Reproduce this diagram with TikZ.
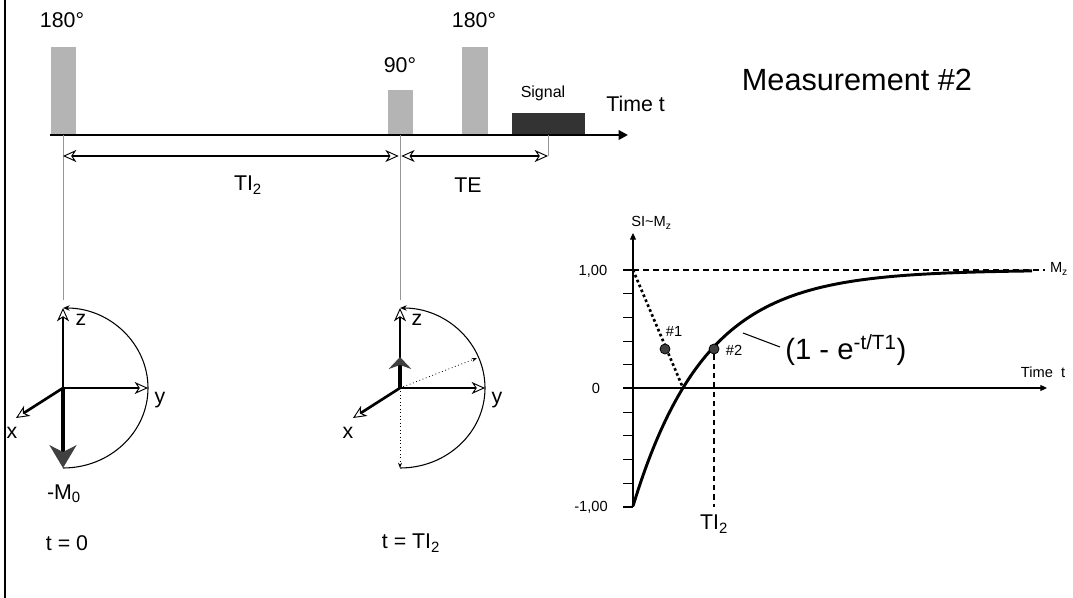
\documentclass[tikz,border=0pt]{standalone}
\usepackage{fontspec}
\setmainfont{Liberation Sans}
\usetikzlibrary{positioning,calc}
\usetikzlibrary{arrows.meta}
\definecolor{PulseGray}{RGB}{180,180,180}
\definecolor{SigDark}{RGB}{51,51,51}
\definecolor{VecGray}{RGB}{64,64,64}
\definecolor{GuideGray}{RGB}{150,150,150}
\tikzset{
	pulse/.style={fill=PulseGray},
	sigbox/.style={fill=SigDark},
	lbl/.style={font=\fontsize{16}{18}\selectfont,inner sep=0pt},
	smalllbl/.style={font=\fontsize{11}{13}\selectfont,inner sep=0pt},
	tline/.style={draw=black,line width=2.2pt,-{Triangle[length=7pt,width=7pt]}},
	dim/.style={draw=black,line width=2.2pt,
		{Stealth[open,fill=white,length=10pt,width=9pt,inset=3pt,line width=0.7pt]}-{Stealth[open,fill=white,length=10pt,width=9pt,inset=3pt,line width=0.7pt]}},
	guide/.style={draw=GuideGray,line width=0.5pt},
	ax/.style={draw=black,line width=2pt,-{Stealth[open,fill=white,length=10pt,width=9pt,inset=3pt,line width=0.7pt]}},
	orbit/.style={draw=black,line width=0.8pt,-{Stealth[length=5pt,width=4pt]}},
	mvec/.style={draw=black,line width=3.6pt,-{Stealth[color=VecGray,length=17pt,width=20pt,inset=5pt]}},
	mvecs/.style={draw=black,line width=3.6pt,-{Stealth[color=VecGray,length=9pt,width=17pt,inset=3pt]}},
	dotvec/.style={draw=black,line width=0.6pt,dotted,-{Stealth[length=4pt,width=3pt]}},
	gax/.style={draw=black,line width=0.8pt},
	recov/.style={draw=black,line width=2.2pt},
	gdot/.style={circle,draw=black,fill=VecGray,line width=0.6pt,inner sep=0pt,minimum size=7.5pt},
}
\begin{document}
\begin{tikzpicture}[x=0.75pt,y=0.75pt]
	\useasboundingbox (0,0) rectangle (1073,-598);
	% frame line at the left
	\coordinate (bd0) at (5,0);
	\coordinate (bd1) at (5,-598);
	\draw[line width=2.2pt] (bd0) -- (bd1);
	% pulse sequence
	\foreach \xa/\xb/\yt in {51/76/47,388/413/90,462/488/47}
	\fill[pulse] (\xa,-135) rectangle (\xb,-\yt);
	\fill[sigbox] (512,-135) rectangle (585,-113);
	\coordinate (ta) at (50,-135);
	\coordinate (tb) at (628,-135);
	\draw[tline] (ta) -- (tb);
	\node[lbl] (degA) at (62,-20) {180°};
	\node[lbl] (degB) at (474,-20) {180°};
	\node[lbl] (degC) at (400,-65) {90°};
	\node[font=\fontsize{12}{14}\selectfont,inner sep=0pt] (siglbl) at (543,-93) {Signal};
	\node[lbl,anchor=west] (tlbl) at (606,-104) {Time t};
	\node[font=\fontsize{23}{26}\selectfont,inner sep=0pt] (meas) at (857,-80) {Measurement \#2};
	% timing
	\coordinate (g0) at (63,-135);
	\coordinate (g1) at (400,-135);
	\coordinate (g2) at (548,-135);
	\coordinate (d0) at (63,-156);
	\coordinate (d1) at (400,-156);
	\coordinate (d2) at (548,-156);
	\coordinate (h0) at (63,-300);
	\coordinate (h1) at (400,-300);
	\draw[guide] (g0) -- (h0);
	\draw[guide] (g1) -- (h1);
	\draw[guide] (g2) -- (d2);
	\draw[dim,shorten >=1pt] (d0) -- (d1);
	\draw[dim,shorten <=1pt] (d1) -- (d2);
	\node[lbl] (tilbl) at (248,-185) {TI\textsubscript{2}};
	\node[lbl] (telbl) at (468,-185) {TE};
	% magnetisation at t = 0
	\coordinate (oA) at (63,-388);
	\coordinate (zA) at (63,-308);
	\coordinate (yA) at (148,-388);
	\coordinate (xA) at (16,-418);
	\coordinate (bA) at (63,-468);
	\draw[orbit] (bA) arc[start angle=-90,end angle=90,x radius=85,y radius=80];
	\draw[ax] (oA) -- (zA);
	\draw[ax] (oA) -- (yA);
	\draw[ax] (oA) -- (xA);
	\draw[mvec] (oA) -- (bA);
	\node[lbl] (zlA) at (81,-320) {z};
	\node[lbl] (ylA) at (160,-400) {y};
	\node[lbl] (xlA) at (12,-433) {x};
	\node[lbl] (mlA) at (64,-494) {-M\textsubscript{0}};
	\node[lbl] (tA) at (67,-543) {t = 0};
	% magnetisation at t = TI2
	\coordinate (oB) at (400,-388);
	\coordinate (zB) at (400,-308);
	\coordinate (yB) at (485,-388);
	\coordinate (xB) at (353,-418);
	\coordinate (bB) at (400,-468);
	\coordinate (mB) at (400,-357);
	\coordinate (rB) at (477,-358);
	\draw[orbit] (bB) arc[start angle=-90,end angle=90,x radius=85,y radius=80];
	\draw[dotvec] (oB) -- (rB);
	\draw[dotvec] (oB) -- (bB);
	\draw[ax] (oB) -- (zB);
	\draw[ax] (oB) -- (yB);
	\draw[ax] (oB) -- (xB);
	\draw[mvecs] (oB) -- (mB);
	\node[lbl] (zlB) at (417,-320) {z};
	\node[lbl] (ylB) at (497,-400) {y};
	\node[lbl] (xlB) at (348,-433) {x};
	\node[lbl] (tB) at (411,-543) {t = TI\textsubscript{2}};
	% recovery curve
	\coordinate (ybot) at (633,-507);
	\coordinate (ytop) at (633,-233);
	\coordinate (xl) at (623,-388);
	\coordinate (xr) at (1047,-388);
	\coordinate (one) at (633,-270);
	\coordinate (oner) at (1045,-270);
	\coordinate (zc) at (683,-388);
	\draw[gax,-{Triangle[length=5pt,width=4.5pt]}] (ybot) -- (ytop);
	\draw[gax,-{Triangle[length=5pt,width=4.5pt]}] (xl) -- (xr);
	\foreach \k in {0,...,10}
	\draw[gax] (623,{-507+\k*23.7}) -- (633,{-507+\k*23.7});
	\draw[gax,dash pattern=on 4.5pt off 3pt] (one) -- (oner);
	\draw[recov] plot[smooth,domain=0:399,samples=60] ({633+\x},{-270-236*exp(-\x/72)});
	\draw[line width=2pt,dotted] (one) -- (zc);
	\node[gdot] (p1) at (665,-349) {};
	\node[gdot] (p2) at (714,-349) {};
	\coordinate (p2b) at (714,-507);
	\draw[gax,dash pattern=on 4pt off 3pt] (p2) -- (p2b);
	\coordinate (ld0) at (743,-333);
	\coordinate (ld1) at (780,-347);
	\draw[gax] (ld0) -- (ld1);
	\node[font=\fontsize{22}{26}\selectfont,inner sep=0pt,anchor=west] (form) at (785,-350) {(1 - e\textsuperscript{-t/T1})};
	\node[smalllbl] (n1) at (674,-331) {\#1};
	\node[smalllbl] (n2) at (734,-350) {\#2};
	\node[smalllbl] (mz) at (1059,-269) {M\textsubscript{z}};
	\node[smalllbl] (tgl) at (1043,-372) {Time\ \ t};
	\node[smalllbl] (vone) at (593,-271) {1,00};
	\node[smalllbl] (vzero) at (596,-388) {0};
	\node[smalllbl] (vmone) at (591,-507) {-1,00};
	\node[smalllbl,anchor=base west] (silbl) at (631,-227) {SI\textasciitilde M\textsubscript{z}};
	\node[lbl] (tilbl2) at (714,-524) {TI\textsubscript{2}};
\end{tikzpicture}
\end{document}
